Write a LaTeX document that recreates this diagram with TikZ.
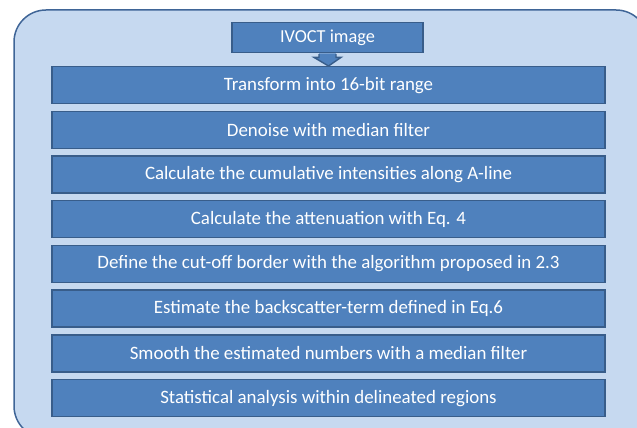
\documentclass[tikz,border=0pt]{standalone}
\usepackage{fontspec}
\setmainfont{Carlito}
\definecolor{outerfill}{HTML}{C6D9F0}
\definecolor{outerline}{HTML}{3F6597}
\definecolor{boxfill}{HTML}{4F81BD}
\definecolor{boxline}{HTML}{385D8A}
\tikzset{
  stepbox/.style={draw=boxline, fill=boxfill, line width=1.4pt, minimum width=553pt, minimum height=37pt,
    inner sep=0pt, text=white, font=\fontsize{18.9}{22}\selectfont, anchor=north},
  topbox/.style={draw=boxline, fill=boxfill, line width=1.4pt, minimum width=191pt, minimum height=30pt,
    inner sep=0pt, text=white, font=\fontsize{18.3}{22}\selectfont, anchor=north}
}
\begin{document}
\begin{tikzpicture}[x=1pt,y=1pt]
\useasboundingbox (0,0) rectangle (637,428);
\begin{scope}
\clip (0,0) rectangle (637,428);
\draw[fill=outerfill, draw=outerline, line width=1.5pt, rounded corners=32pt] (14,-10) rectangle (648,418);
\end{scope}
\node[topbox] (ivoct) at (327.5,406) {IVOCT image};
\node[stepbox] (b1) at (328.5,362) {Transform into 16-bit range};
\node[stepbox] (b2) at (328.5,317.3) {Denoise with median filter};
\node[stepbox] (b3) at (328.5,272.6) {Calculate the cumulative intensities along A-line};
\node[stepbox] (b4) at (328.5,227.9) {Calculate the attenuation with Eq. 4};
\node[stepbox] (b5) at (328.5,183.2) {Define the cut-off border with the algorithm proposed in 2.3};
\node[stepbox] (b6) at (328.5,138.5) {Estimate the backscatter-term defined in Eq.6};
\node[stepbox] (b7) at (328.5,93.8) {Smooth the estimated numbers with a median filter};
\node[stepbox] (b8) at (328.5,49.1) {Statistical analysis within delineated regions};
\fill[boxfill] ([xshift=-8.5pt]ivoct.south) -- ++(0,-4) -- ++(-5,0) -- (b1.north) -- ([xshift=13.5pt,yshift=-4pt]ivoct.south) -- ++(-5,0) -- ([xshift=8.5pt]ivoct.south) -- cycle;
\draw[boxline, line width=1.4pt, line join=miter] ([xshift=-8.5pt,yshift=-0.7pt]ivoct.south) -- ++(0,-3.3) -- ++(-5,0) -- (b1.north) -- ([xshift=13.5pt,yshift=-4pt]ivoct.south) -- ++(-5,0) -- ([xshift=8.5pt,yshift=-0.7pt]ivoct.south);
\end{tikzpicture}
\end{document}
